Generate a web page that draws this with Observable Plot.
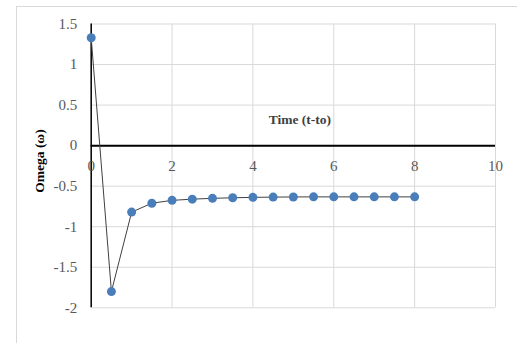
<!DOCTYPE html>
<html>
<head>
<meta charset="utf-8">
<script src="https://cdn.jsdelivr.net/npm/d3@7"></script>
<script src="https://cdn.jsdelivr.net/npm/@observablehq/plot@0.6"></script>
<style>
  html, body { margin: 0; padding: 0; background: #fff; }
  #wrap { position: relative; width: 517px; height: 343px; overflow: hidden; }
  #border { position: absolute; left: 16px; top: 6px; width: 520px; height: 360px;
            border-top: 1px solid #d9d9d9; border-left: 1px solid #d9d9d9; box-sizing: border-box; }
  #chart { position: absolute; left: 0; top: 0; }
</style>
</head>
<body>
<div id="wrap"><div id="border"></div><div id="chart"></div></div>
<script>
const time = [0, 0.5, 1, 1.5, 2, 2.5, 3, 3.5, 4, 4.5, 5, 5.5, 6, 6.5, 7, 7.5, 8];
const omega = [1.33, -1.80, -0.82, -0.71, -0.675, -0.66, -0.65, -0.643, -0.638, -0.635, -0.633, -0.632, -0.632, -0.632, -0.632, -0.632, -0.632];
const xTicks = [0, 2, 4, 6, 8, 10];
const yTicks = [-2, -1.5, -1, -0.5, 0, 0.5, 1, 1.5];
const xTitle = "Time (t-to)";
const yTitle = "Omega (ω)";

const data = time.map((t, i) => ({t, w: omega[i]}));
const serif = "'Liberation Serif', 'Times New Roman', serif";

const plot = Plot.plot({
  width: 517,
  height: 343,
  marginLeft: 90.7,
  marginRight: 22,
  marginTop: 23.5,
  marginBottom: 35.7,
  style: {fontFamily: serif, background: "transparent", overflow: "visible"},
  x: {domain: [0, 10], axis: null},
  y: {domain: [-2, 1.5], axis: null},
  marks: [
    Plot.ruleX(xTicks, {stroke: "#d9d9d9", strokeWidth: 1}),
    Plot.ruleY(yTicks, {stroke: "#d9d9d9", strokeWidth: 1}),
    Plot.ruleX([0], {stroke: "#000", strokeWidth: 1.5}),
    Plot.ruleY([0], {stroke: "#000", strokeWidth: 2}),
    Plot.axisY(yTicks, {anchor: "left", tickSize: 0, tickPadding: 14, fontSize: 15, fill: "#595959",
      tickFormat: d => String(d), label: null}),
    Plot.text(xTicks, {x: d => d, y: 0, dy: 21, text: d => String(d), fontSize: 15, fill: "#595959"}),
    Plot.line(data, {x: "t", y: "w", stroke: "#404040", strokeWidth: 1}),
    Plot.dot(data, {x: "t", y: "w", r: 4.5, fill: "#4a7ebb", stroke: "none"}),
    Plot.text([xTitle], {x: 5.16, y: 0.32, text: d => d, fontSize: 13.5, fontWeight: "bold", fill: "#404040"})
  ]
});
d3.select(plot).append("text")
  .attr("transform", "translate(41,161) rotate(-90)")
  .attr("text-anchor", "middle")
  .attr("dominant-baseline", "middle")
  .attr("font-family", serif)
  .attr("font-size", 13.5)
  .attr("font-weight", "bold")
  .attr("fill", "#000")
  .text(yTitle);
document.getElementById("chart").appendChild(plot);
</script>
</body>
</html>
